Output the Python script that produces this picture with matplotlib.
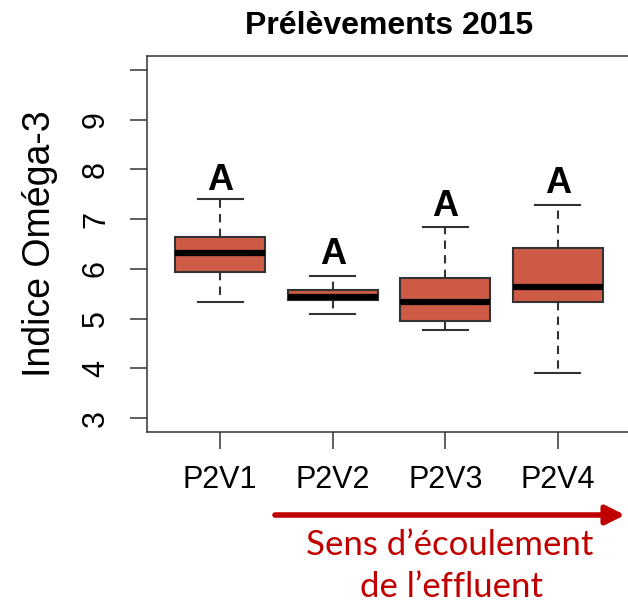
import matplotlib.pyplot as plt

plt.rcParams["font.family"] = ["Liberation Sans", "DejaVu Sans"]

groups = ["P2V1", "P2V2", "P2V3", "P2V4"]
whisk_lo = [5.34, 5.10, 4.77, 3.90]
q1 = [5.94, 5.37, 4.96, 5.34]
medians = [6.32, 5.43, 5.34, 5.64]
q3 = [6.65, 5.57, 5.81, 6.41]
whisk_hi = [7.41, 5.85, 6.85, 7.29]
letters = ["A", "A", "A", "A"]
letter_y = [7.78, 6.29, 7.26, 7.72]
yticks = [3, 4, 5, 6, 7, 8, 9, 10]
ytick_labels = ["3", "4", "5", "6", "7", "8", "9", ""]

box_color = "#CD5B45"
edge = "#333333"
red = "#C00000"

fig = plt.figure(figsize=(6.28, 6.06), dpi=100)
ax = fig.add_axes([147 / 628, 174 / 606, 484 / 628, 376 / 606])

stats = []
for i, g in enumerate(groups):
    stats.append({
        "label": g, "whislo": whisk_lo[i], "q1": q1[i], "med": medians[i],
        "q3": q3[i], "whishi": whisk_hi[i], "fliers": [],
    })

ax.bxp(stats, positions=range(1, len(groups) + 1), widths=0.8, capwidths=0.4,
       patch_artist=True, showfliers=False,
       boxprops=dict(facecolor=box_color, edgecolor=edge, linewidth=1.5),
       medianprops=dict(color="black", linewidth=4.5, solid_capstyle="butt"),
       whiskerprops=dict(color=edge, linewidth=1.5, linestyle=(0, (4, 3))),
       capprops=dict(color=edge, linewidth=1.5))

for i, (lab, ly) in enumerate(zip(letters, letter_y)):
    ax.text(i + 1, ly, lab, ha="center", va="center", fontsize=26, fontweight="bold")

ax.set_xlim(0.35, 4.65)
ax.set_ylim(2.72, 10.28)
ax.set_yticks(yticks)
ax.set_yticklabels(ytick_labels, rotation=90, va="center")
ax.tick_params(axis="y", length=12, width=1.1, color=edge, labelsize=22, pad=14)
ax.tick_params(axis="x", length=12, width=1.1, color=edge, labelsize=22, pad=12)
for s in ax.spines.values():
    s.set_color(edge)
    s.set_linewidth(1.1)

ax.set_title("Prélèvements 2015", fontsize=23, fontweight="bold", pad=16)
ax.set_ylabel("Indice Oméga-3", fontsize=27, va="center")
ax.yaxis.set_label_coords(-0.222, 0.5)

# flow direction arrow below the axis
ax.annotate("", xy=(625 / 628, 91 / 606), xytext=(275 / 628, 91 / 606),
            xycoords="figure fraction", textcoords="figure fraction",
            arrowprops=dict(arrowstyle="-|>", lw=4, color=red, mutation_scale=28,
                            shrinkA=0, shrinkB=0))
fig.text(450 / 628, 1 - 545 / 606, "Sens d\u2019écoulement", ha="center", va="center",
         color=red, fontsize=25, family=["Lato", "DejaVu Sans"])
fig.text(452 / 628, 1 - 587 / 606, "de l\u2019effluent", ha="center", va="center",
         color=red, fontsize=25, family=["Lato", "DejaVu Sans"])

fig.savefig("out.png", dpi=100)
